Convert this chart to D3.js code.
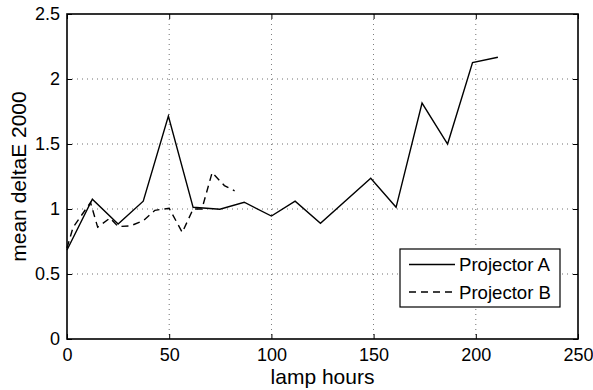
<!DOCTYPE html>
<html>
<head>
<meta charset="utf-8">
<script src="https://cdn.jsdelivr.net/npm/d3@7"></script>
<style>
  html, body { margin: 0; padding: 0; background: #fff; }
  svg { display: block; font-family: "Liberation Sans", Arial, Helvetica, sans-serif; }
</style>
</head>
<body>
<svg id="chart" width="593" height="390"></svg>
<script>
// Data
const hoursA = [0, 12.4, 25, 37.3, 49.6, 61.7, 74.8, 86.7, 100, 111.6, 124, 148.6, 161, 173.7, 186.2, 198.4, 210.8];
const valuesA = [0.685, 1.075, 0.885, 1.06, 1.715, 1.013, 0.998, 1.052, 0.946, 1.06, 0.89, 1.236, 1.013, 1.815, 1.5, 2.126, 2.167];
const hoursB = [0, 3, 11.5, 15, 21, 25, 31, 37.3, 43, 50, 56.4, 61.7, 66, 71, 77, 82];
const valuesB = [0.70, 0.86, 1.05, 0.86, 0.93, 0.865, 0.87, 0.91, 0.99, 1.005, 0.82, 1.0, 1.0, 1.28, 1.18, 1.14];
const xTicks = [0, 50, 100, 150, 200, 250];
const yTicks = [0, 0.5, 1, 1.5, 2, 2.5];
const seriesNames = ["Projector A", "Projector B"];

const svg = d3.select("#chart");
const m = { left: 67, right: 578, top: 14, bottom: 339 };
const x = d3.scaleLinear().domain([0, 250]).range([m.left, m.right]);
const y = d3.scaleLinear().domain([0, 2.5]).range([m.bottom, m.top]);

// grid
const grid = svg.append("g");
grid.selectAll("line.gx").data(xTicks.slice(1, -1)).enter().append("line")
  .attr("x1", d => x(d)).attr("x2", d => x(d)).attr("y1", m.top).attr("y2", m.bottom)
  .attr("stroke", "#000").attr("stroke-width", 0.8).attr("stroke-dasharray", "1,4").attr("opacity", 0.7);
grid.selectAll("line.gy").data(yTicks.slice(1, -1)).enter().append("line")
  .attr("y1", d => y(d)).attr("y2", d => y(d)).attr("x1", m.left).attr("x2", m.right)
  .attr("stroke", "#000").attr("stroke-width", 0.8).attr("stroke-dasharray", "1,4").attr("opacity", 0.7);

// axes (inward ticks on all sides)
const tickLen = 5;
const fs = 18;
const axB = d3.axisBottom(x).tickValues(xTicks).tickSize(-tickLen).tickPadding(9).tickFormat(d3.format("d"));
const axT = d3.axisTop(x).tickValues(xTicks).tickSize(-tickLen).tickFormat("");
const axL = d3.axisLeft(y).tickValues(yTicks).tickSize(-tickLen).tickPadding(7).tickFormat(d => String(d));
const axR = d3.axisRight(y).tickValues(yTicks).tickSize(-tickLen).tickFormat("");

function style(g) {
  g.selectAll("path.domain").attr("stroke", "#000").attr("stroke-width", 1.6);
  g.selectAll(".tick line").attr("stroke", "#000").attr("stroke-width", 1);
  g.selectAll("text").attr("fill", "#000").style("font-size", fs + "px")
    .style("font-family", "'Liberation Sans', Arial, Helvetica, sans-serif");
}
svg.append("g").attr("transform", `translate(0,${m.bottom})`).call(axB).call(style);
svg.append("g").attr("transform", `translate(0,${m.top})`).call(axT).call(style);
svg.append("g").attr("transform", `translate(${m.left},0)`).call(axL).call(style);
svg.append("g").attr("transform", `translate(${m.right},0)`).call(axR).call(style);
svg.selectAll("path.domain").attr("d", null);
svg.append("rect").attr("x", m.left).attr("y", m.top)
  .attr("width", m.right - m.left).attr("height", m.bottom - m.top)
  .attr("fill", "none").attr("stroke", "#000").attr("stroke-width", 1.6);

// lines
const line = d3.line().x(d => x(d[0])).y(d => y(d[1]));
const dataA = hoursA.map((h, i) => [h, valuesA[i]]);
const dataB = hoursB.map((h, i) => [h, valuesB[i]]);
svg.append("path").datum(dataB).attr("d", line).attr("fill", "none")
  .attr("stroke", "#000").attr("stroke-width", 1.4).attr("stroke-dasharray", "7,5");
svg.append("path").datum(dataA).attr("d", line).attr("fill", "none")
  .attr("stroke", "#000").attr("stroke-width", 1.4);

// axis labels
svg.append("text").attr("x", (m.left + m.right) / 2).attr("y", 384)
  .attr("text-anchor", "middle").style("font-size", "21px").text("lamp hours");
svg.append("text").attr("transform", `translate(26,${(m.top + m.bottom) / 2}) rotate(-90)`)
  .attr("text-anchor", "middle").style("font-size", "21px").text("mean deltaE 2000");

// legend
const lg = svg.append("g");
lg.append("rect").attr("x", 400).attr("y", 249).attr("width", 160).attr("height", 58)
  .attr("fill", "#fff").attr("stroke", "#000").attr("stroke-width", 1.2);
const dashes = [null, "7,5"];
seriesNames.forEach((name, i) => {
  const yy = 264.5 + i * 27.5;
  lg.append("line").attr("x1", 409).attr("x2", 455).attr("y1", yy).attr("y2", yy)
    .attr("stroke", "#000").attr("stroke-width", 1.4).attr("stroke-dasharray", dashes[i]);
  lg.append("text").attr("x", 459).attr("y", yy + 6.5).style("font-size", "18.6px").text(name);
});
</script>
</body>
</html>
